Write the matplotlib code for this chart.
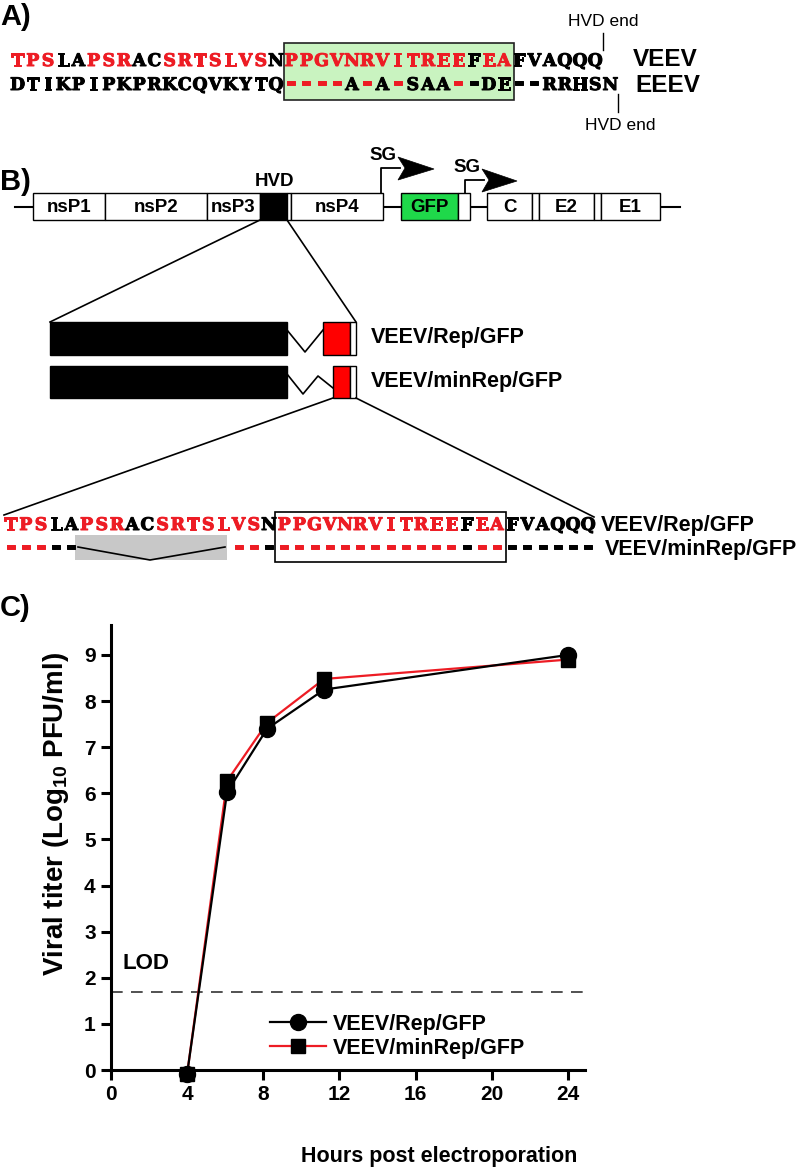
import matplotlib
matplotlib.use('Agg')
import matplotlib.pyplot as plt
import matplotlib.patheffects as pe
from matplotlib.patches import Rectangle, Polygon

plt.rcParams['font.family'] = ['Liberation Sans', 'DejaVu Sans']
plt.rcParams['mathtext.fontset'] = 'custom'
plt.rcParams['mathtext.rm'] = 'Liberation Sans:bold'
plt.rcParams['mathtext.bf'] = 'Liberation Sans:bold'

RED = '#ed1c24'
GREEN_BOX = '#c9f3c0'
GFP_GREEN = '#1fd84a'
GRAY = '#c8c8c8'

# ---------------- data ----------------
# Panel A: HVD C-terminal sequences
veev_seq = "TPSLAPSRACSRTSLVSNPPGVNRVITREEFEAFVAQQQ"
veev_col = "rrr" + "bb" + "rrr" + "bb" + "rrrrrrr" + "b" + "rrrrrrrrrrrr" + "b" + "rr" + "bbbbbb"
eeev_seq = "DTIKPIPKPRKCQVKYTQ" + "----A-A-SAA--DE" + "--RRHSN"
eeev_col = "b" * 18 + "rrrr" + "b" + "r" + "b" + "r" + "bbb" + "r" + "b" + "bb" + "b" * 7
# Panel B: minimal replicon deletion map
minrep_seq = "-----" + " " * 10 + "-" * 24
minrep_col = veev_col

genome_names = ['nsP1', 'nsP2', 'nsP3', '', '', 'nsP4', 'GFP', '', 'C', '', 'E2', '', 'E1']
genome_start = [33, 105, 207, 260, 287, 291, 401, 458, 487, 532, 539, 594, 601]
genome_end = [105, 207, 260, 287, 291, 383, 458, 470, 532, 539, 594, 601, 660]
genome_fill = ['white', 'white', 'white', 'black', 'white', 'white', GFP_GREEN,
               'white', 'white', 'white', 'white', 'white', 'white']

# Panel C: growth curves
hours = [4, 6.1, 8.2, 11.2, 24]
rep_titer = [-0.08, 6.03, 7.4, 8.25, 9.0]
minrep_titer = [-0.08, 6.27, 7.53, 8.48, 8.9]
lod = 1.7
xticks = [0, 4, 8, 12, 16, 20, 24]
yticks = list(range(10))

# ---------------- figure ----------------
fig = plt.figure(figsize=(8, 11.72), dpi=100)
fig.patch.set_facecolor('white')
ax0 = fig.add_axes([0, 0, 1, 1])
ax0.set_xlim(0, 800)
ax0.set_ylim(1172, 0)
ax0.axis('off')

PITCH = 15.2
SEQ_SIZE = 12.5


def draw_seq(seq, cols, x0, ybase):
    for i, (ch, c) in enumerate(zip(seq, cols)):
        if ch == ' ':
            continue
        col = RED if c == 'r' else 'black'
        size = SEQ_SIZE * 1.5 if ch == '-' else SEQ_SIZE
        ax0.text(x0 + PITCH * (i + 0.5), ybase, ch, color=col,
                 fontsize=size, fontfamily='DejaVu Serif', fontweight='bold',
                 ha='center', va='baseline',
                 path_effects=[pe.withStroke(linewidth=0.7, foreground=col)])


def bold(x, y, s, size, ha='left', **kw):
    ax0.text(x, y, s, fontsize=size, fontweight='bold', ha=ha, va='center', **kw)


# ---- Panel A ----
bold(0, 17, 'A)', 21)
XA = 10
ax0.add_patch(Rectangle((XA + PITCH * 18, 43), PITCH * 15 + 2, 57, fc=GREEN_BOX,
                        ec='#222222', lw=1.2, zorder=0))
draw_seq(veev_seq, veev_col, XA, 66)
draw_seq(eeev_seq, eeev_col, XA, 90)
bold(633, 60, 'VEEV', 17.5)
bold(635, 86, 'EEEV', 17.5)
xq = XA + PITCH * 39
ax0.plot([xq, xq], [33, 50], color='black', lw=1)
ax0.text(xq, 22, 'HVD end', fontsize=12.5, ha='center', va='center')
xn = XA + PITCH * 40
ax0.plot([xn, xn], [94, 112], color='black', lw=1)
ax0.text(xn + 2, 126, 'HVD end', fontsize=12.5, ha='center', va='center')

# ---- Panel B ----
bold(0, 182, 'B)', 21)
GT, GB = 193, 220
GY = (GT + GB) / 2
ax0.plot([15, 680], [GY, GY], color='black', lw=1.5, zorder=1)
for name, s, e, f in zip(genome_names, genome_start, genome_end, genome_fill):
    ax0.add_patch(Rectangle((s, GT), e - s, GB - GT, fc=f, ec='black', lw=1, zorder=2))
    if name:
        ax0.text((s + e) / 2, GY + 1, name, fontsize=13.5,
                 fontweight='bold', ha='center', va='center', zorder=3)
bold(274, 181, 'HVD', 13.5, ha='center')


def sg_arrow(xv, ystem, xhead, xtip):
    ax0.plot([xv, xv, xhead + 2], [GT, ystem, ystem], color='black', lw=1.3, zorder=3)
    ax0.add_patch(Polygon([(xhead, ystem - 11), (xtip, ystem + 1), (xhead, ystem + 12),
                           (xhead + 7, ystem)], closed=True, fc='black', ec='black', lw=0.5,
                          zorder=3))
    bold(xv + 2, ystem - 12, 'SG', 13.5, ha='center')


sg_arrow(381, 168, 398, 434)
sg_arrow(465, 180, 482, 517)

# zoom lines from HVD
ax0.plot([260, 50], [GB, 322], color='black', lw=1.2)
ax0.plot([287, 356], [GB, 322], color='black', lw=1.2)

# Rep construct
ax0.add_patch(Rectangle((50, 322), 237, 33, fc='black', ec='black', lw=1))
ax0.plot([287, 305, 323], [330, 352, 330], color='black', lw=1.2)
ax0.add_patch(Rectangle((323, 322), 27, 33, fc='#ff0000', ec='black', lw=1))
ax0.add_patch(Rectangle((350, 322), 6, 33, fc='white', ec='black', lw=1))
bold(371, 338, 'VEEV/Rep/GFP', 15.5)

# minRep construct
ax0.add_patch(Rectangle((50, 366), 237, 32, fc='black', ec='black', lw=1))
ax0.plot([287, 303, 318, 333], [374, 394, 376, 388], color='black', lw=1.2)
ax0.add_patch(Rectangle((333, 366), 17, 32, fc='#ff0000', ec='black', lw=1))
ax0.add_patch(Rectangle((350, 366), 6, 32, fc='white', ec='black', lw=1))
bold(371, 382, 'VEEV/minRep/GFP', 15.5)

ax0.plot([333, 4], [398, 515], color='black', lw=1.2)
ax0.plot([356, 594], [398, 517], color='black', lw=1.2)

# sequence comparison
XS = 3
ax0.add_patch(Rectangle((XS + PITCH * 18 - 2, 512), PITCH * 15 + 3, 50, fc='none',
                        ec='black', lw=1.2))
draw_seq(veev_seq, veev_col, XS, 530)
ax0.add_patch(Rectangle((75, 535), 152, 25, fc=GRAY, ec='none', zorder=0))
ax0.plot([78, 150, 225], [547, 560, 547], color='black', lw=1.2)
draw_seq(minrep_seq, minrep_col, XS, 554)
bold(601, 525, 'VEEV/Rep/GFP', 15.5)
bold(605, 550, 'VEEV/minRep/GFP', 15.5)

# ---- Panel C ----
bold(0, 608, 'C)', 21)
L, R, T, B = 111, 585, 625, 1070
ax = fig.add_axes([L / 800, 1 - B / 1172, (R - L) / 800, (B - T) / 1172])
ax.set_xlim(0, 24.9)
ax.set_ylim(0, 9.65)
ax.axhline(lod, color='#333333', lw=1.2, ls=(0, (7, 5)), zorder=1)
ax.text(0.6, 2.3, 'LOD', fontsize=16, fontweight='bold', ha='left', va='center')
l2, = ax.plot(hours, minrep_titer, color=RED, lw=1.6, marker='s', ms=9.5, mfc='black',
              mec='black', clip_on=False, zorder=3, label='VEEV/minRep/GFP')
l1, = ax.plot(hours, rep_titer, color='black', lw=1.6, marker='o', ms=11.5, mfc='black',
              mec='black', clip_on=False, zorder=4, label='VEEV/Rep/GFP')
ax.legend([l1, l2], ['VEEV/Rep/GFP', 'VEEV/minRep/GFP'], loc='upper left',
          bbox_to_anchor=((270 - L) / (R - L), (B - 1014) / (B - T)), frameon=False,
          borderpad=0, borderaxespad=0, handlelength=2.6, handletextpad=0.3,
          labelspacing=0.12, prop={'weight': 'bold', 'size': 15.5})
for side in ['top', 'right']:
    ax.spines[side].set_visible(False)
for side in ['left', 'bottom']:
    ax.spines[side].set_linewidth(2.2)
ax.set_xticks(xticks)
ax.set_yticks(yticks)
ax.tick_params(width=2.2, length=7, labelsize=15, pad=4)
for lab in ax.get_xticklabels() + ax.get_yticklabels():
    lab.set_fontweight('bold')
ax.set_xlabel('Hours post electroporation', fontsize=15.5, fontweight='bold')
ax.xaxis.set_label_coords((439 - L) / (R - L), -(1146 - B) / (B - T))
ax.set_ylabel(r'Viral titer (Log$_{\mathbf{10}}$ PFU/ml)', fontsize=20, fontweight='bold')
ax.yaxis.set_label_coords(-0.085, 0.575)

fig.savefig('out.png', dpi=100, facecolor='white')
